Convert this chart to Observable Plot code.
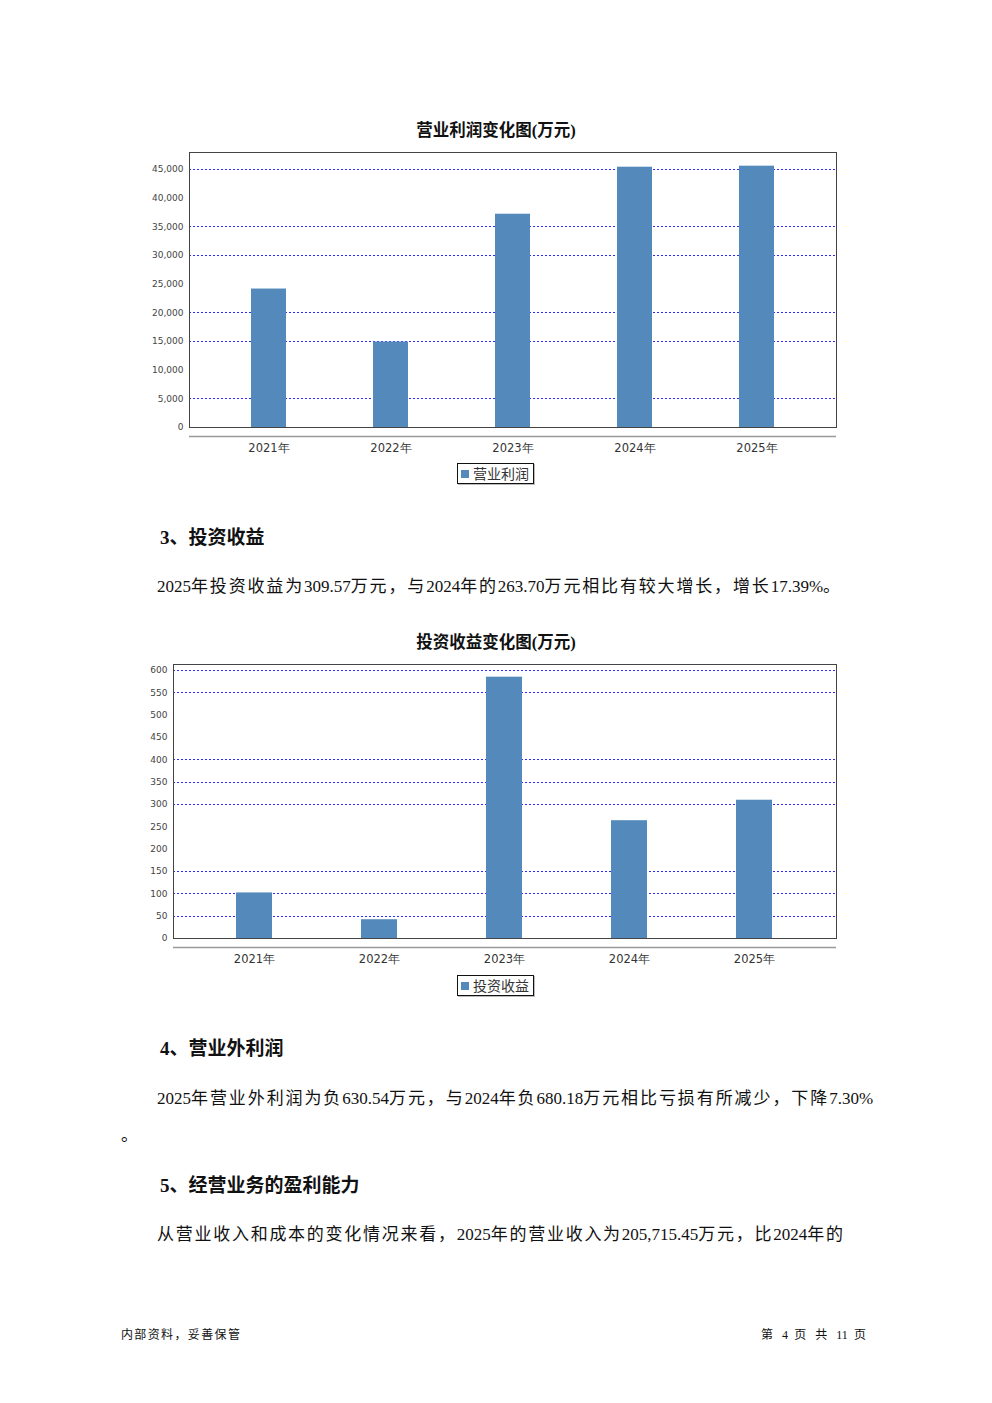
<!DOCTYPE html>
<html>
<head>
<meta charset="utf-8">
<script src="https://cdn.jsdelivr.net/npm/d3@7"></script>
<script src="https://cdn.jsdelivr.net/npm/@observablehq/plot@0.6"></script>
<style>
  html, body { margin: 0; padding: 0; background: #fff; }
  #page { position: relative; width: 992px; height: 1403px; overflow: hidden; background: #fff; }
  .abs { position: absolute; white-space: nowrap; }
  .ctitle { font-family: "Noto Sans CJK SC", sans-serif; font-weight: bold; font-size: 16.5px; color: #111; transform: translateX(-50%); }
  .h { font-family: "Liberation Serif", "Noto Sans CJK SC", serif; font-weight: bold; font-size: 19px; color: #111; }
  .p { font-family: "Liberation Serif", "Noto Sans CJK SC", serif; font-size: 17px; color: #111; }
  .foot { font-family: "Liberation Serif", "Noto Sans CJK SC", serif; font-size: 12px; color: #111; }
  .asc { letter-spacing: 0; font-family: "Liberation Serif", serif; }
  .legend { border: 1.5px solid #111; box-shadow: 1px 1px 0 #bbb; font-family: "Noto Sans CJK SC", sans-serif; font-size: 14px; color: #333; padding: 0 4px 0 3px; line-height: 19px; height: 19px; box-sizing: content-box; }
  .legend i { display: inline-block; width: 8px; height: 8px; background: #5489bb; margin-right: 4px; vertical-align: 1px; }
</style>
</head>
<body>
<div id="page"></div>
<script>
// ---- data ----
const years = ["2021年", "2022年", "2023年", "2024年", "2025年"];
const profitValues = [24150, 14900, 37200, 45400, 45580];
const profitTicks = [0, 5000, 10000, 15000, 20000, 25000, 30000, 35000, 40000, 45000];
const profitGrid = [5000, 15000, 20000, 30000, 35000, 45000];
const investValues = [102, 42, 585, 263.70, 309.57];
const investTicks = [0, 50, 100, 150, 200, 250, 300, 350, 400, 450, 500, 550, 600];
const investGrid = [50, 100, 150, 300, 350, 400, 550, 600];

const page = document.getElementById("page");

// text whose CJK characters are spread so the line fills a given width (ASCII runs stay tight)
function addText(cls, text, left, top, fitWidth) {
  const d = document.createElement("div");
  d.className = "abs " + cls;
  const parts = text.match(/[\x21-\x7e]+|[^\x21-\x7e]+/g) || [];
  let cjkCount = 0;
  for (const part of parts) {
    if (/^[\x21-\x7e]+$/.test(part)) {
      const s = document.createElement("span");
      s.className = "asc";
      s.textContent = part;
      d.appendChild(s);
    } else {
      d.appendChild(document.createTextNode(part));
      cjkCount += [...part].length;
    }
  }
  d.style.left = left + "px";
  d.style.top = top + "px";
  page.appendChild(d);
  if (fitWidth && cjkCount > 1) {
    const natural = d.getBoundingClientRect().width;
    const lastIsCjk = !/[\x21-\x7e]$/.test(text);
    const gaps = lastIsCjk ? cjkCount - 1 : cjkCount;
    d.style.letterSpacing = ((fitWidth - natural) / gaps) + "px";
  }
  return d;
}

function barChart(values, ticks, grid, ymax, marginLeft, plotHeight) {
  const data = years.map((y, i) => ({year: y, value: values[i]}));
  return Plot.plot({
    width: 720,
    height: 7 + plotHeight + 30,
    marginLeft,
    marginRight: 14,
    marginTop: 7,
    marginBottom: 30,
    style: {fontFamily: "DejaVu Sans, sans-serif", fontSize: "10px", color: "#333", background: "transparent"},
    x: {domain: years, paddingInner: 0.71, paddingOuter: 0.49, label: null},
    y: {domain: [0, ymax], label: null},
    marks: [
      Plot.ruleY(grid, {stroke: "#2b2bff", strokeDasharray: "2,2", strokeWidth: 1, shapeRendering: "crispEdges"}),
      Plot.barY(data, {x: "year", y: "value", fill: "#5489bb"}),
      Plot.frame({stroke: "#444", strokeWidth: 1, shapeRendering: "crispEdges"}),
      Plot.ruleY([0], {dy: 9, stroke: "#999", strokeWidth: 1.5}),
      Plot.axisY({ticks, tickSize: 0, tickPadding: 6, fontSize: 9, fill: "#444", tickFormat: d3.format(","), label: null}),
      Plot.axisX({tickSize: 0, tickPadding: 16, fontSize: 11.5, label: null})
    ]
  });
}

// Chart 1
addText("ctitle", "营业利润变化图(万元)", 496, 117);
const c1 = barChart(profitValues, profitTicks, profitGrid, 47965, 59, 275);
c1.style.position = "absolute"; c1.style.left = "130px"; c1.style.top = "145px";
page.appendChild(c1);
const lg1 = document.createElement("div");
lg1.className = "abs legend"; lg1.innerHTML = "<i></i>营业利润";
lg1.style.left = "457px"; lg1.style.top = "463px";
page.appendChild(lg1);

// Section 3
addText("h", "3、投资收益", 160, 522);
addText("p", "2025年投资收益为309.57万元，与2024年的263.70万元相比有较大增长，增长17.39%。", 157, 572, 683);

// Chart 2
addText("ctitle", "投资收益变化图(万元)", 496, 629);
const c2 = barChart(investValues, investTicks, investGrid, 613.4, 43, 274);
c2.style.position = "absolute"; c2.style.left = "130px"; c2.style.top = "657px";
page.appendChild(c2);
const lg2 = document.createElement("div");
lg2.className = "abs legend"; lg2.innerHTML = "<i></i>投资收益";
lg2.style.left = "457px"; lg2.style.top = "975px";
page.appendChild(lg2);

// Section 4
addText("h", "4、营业外利润", 160, 1033);
addText("p", "2025年营业外利润为负630.54万元，与2024年负680.18万元相比亏损有所减少，下降7.30%", 157, 1084, 716);
addText("p", "。", 121, 1121);

// Section 5
addText("h", "5、经营业务的盈利能力", 160, 1170);
addText("p", "从营业收入和成本的变化情况来看，2025年的营业收入为205,715.45万元，比2024年的", 157, 1220, 686);

// Footer
addText("foot", "内部资料，妥善保管", 121, 1325, 119);
addText("foot", "第 4 页   共 11 页", 761, 1325, 111);
</script>
</body>
</html>
